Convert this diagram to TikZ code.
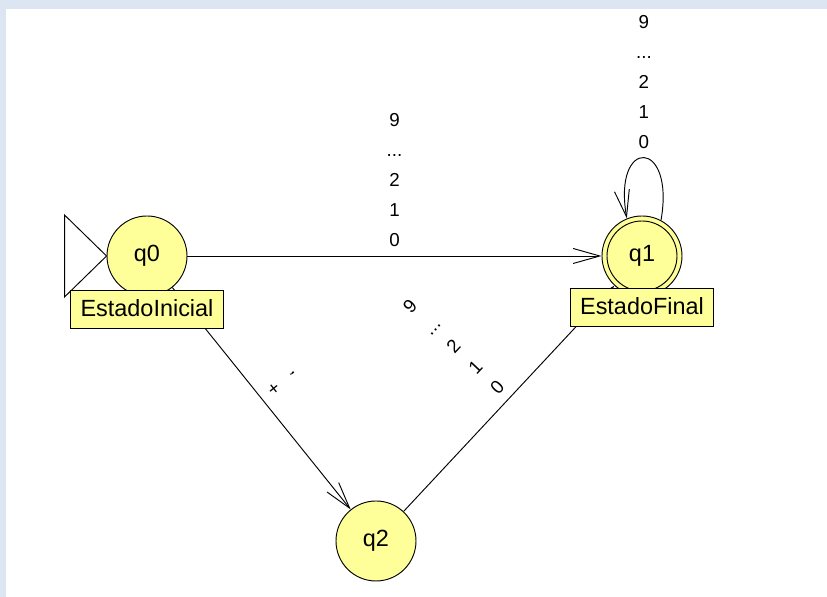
\documentclass[tikz,border=0pt]{standalone}
\usepackage{fontspec}
\setmainfont{Liberation Sans}
\usetikzlibrary{arrows.meta}
\definecolor{stateyellow}{RGB}{255,255,153}
\definecolor{framebg}{RGB}{220,230,242}

\begin{document}
\begin{tikzpicture}[
        line width=0.8pt,
        >={Straight Barb[length=0.8cm,width=0.45cm]},
        state/.style={circle,draw,fill=stateyellow,minimum size=2.4cm,inner sep=0pt,font=\fontsize{20}{24}\selectfont},
        tag/.style={rectangle,draw,fill=stateyellow,minimum height=1.14cm,inner xsep=0.3cm,inner ysep=0pt,text depth=0.25em,font=\fontsize{20}{24}\selectfont},
        trans/.style={font=\fontsize{16}{25.5}\selectfont,align=center,inner sep=0pt,above=0.27cm}
    ]
        % window frame
        \fill[framebg] (0,0) rectangle (24.81,17.91);
        \fill[white] (0.18,0) rectangle (24.81,17.64);

        \node[state] (q0) at (4.41,10.23) {q0};
        \node[state] (q1) at (19.26,10.23) {q1};
        \node[state] (q2) at (11.28,1.68) {q2};
        \draw (q1) circle (1.05);

        % start marker
        \draw (q0.west) -- ++(-1.26,1.23) -- ++(0,-2.46) -- cycle;

        \draw[->] (q0) -- node[trans]{9\\...\\2\\1\\0} (q1);
        \draw[->] (q0) -- node[trans,sloped]{,\\+} (q2);
        \draw[->] (q2) -- node[trans,sloped]{9\\...\\2\\1\\0} (q1);
        \draw[->] (q1.62) .. controls +(80:2.5) and +(100:2.5) .. node[trans]{9\\...\\2\\1\\0} (q1.112);

        \node[tag] (t0) at ([yshift=-1.59cm]q0.center) {EstadoInicial};
        \node[tag] (t1) at ([yshift=-1.53cm]q1.center) {EstadoFinal};
    \end{tikzpicture}
\end{document}
